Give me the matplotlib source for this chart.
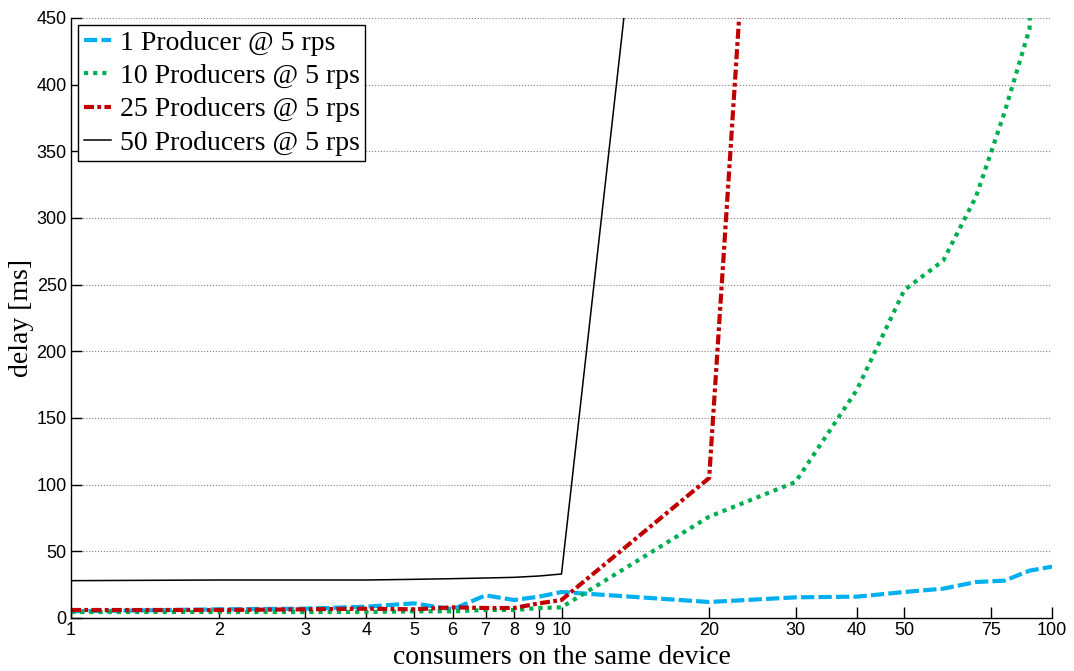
import numpy as np
import matplotlib
matplotlib.use('Agg')
import matplotlib.pyplot as plt
from matplotlib.ticker import FixedLocator, NullLocator, FixedFormatter

# consumers on the same device
consumers = [1, 2, 3, 4, 5, 6, 7, 8, 9, 10, 20, 30, 40, 50, 60, 70, 80, 90, 100]

# delay [ms] per configuration (values above 450 run off the top of the plot)
delay_1p = [5, 6.5, 7, 8.5, 11, 6.5, 17, 13.5, 16, 19.5, 12, 15.5, 16, 19.5, 22, 27, 28, 35.5, 38.5]
delay_10p = [4.5, 4.5, 4.5, 4.5, 5, 5, 6, 6, 7.5, 8, 76, 102, 171, 246, 268, 316, 379, 442, 2000]

consumers_25p = [1, 2, 3, 4, 5, 6, 7, 8, 9, 10, 20, 30]
delay_25p = [6, 6, 6.5, 7, 6.5, 8, 7.5, 7.5, 11, 13.5, 105, 1100]

consumers_50p = [1, 2, 3, 4, 5, 6, 7, 8, 9, 10, 20]
delay_50p = [28, 28.5, 28.5, 28.5, 29, 29.5, 30, 30.5, 31.5, 33, 1020]

xticks = [1, 2, 3, 4, 5, 6, 7, 8, 9, 10, 20, 30, 40, 50, 75, 100]
yticks = [0, 50, 100, 150, 200, 250, 300, 350, 400, 450]

serif = ['Liberation Serif', 'DejaVu Serif']
sans = ['Liberation Sans', 'DejaVu Sans']

fig = plt.figure(figsize=(10.74, 6.71), dpi=100)
ax = fig.add_axes([71 / 1074, 53 / 671, 981 / 1074, 600 / 671])

ax.plot(consumers, delay_1p, color='#00B0F0', lw=3, dashes=(3.2, 1.0),
        label='1 Producer @ 5 rps')
ax.plot(consumers, delay_10p, color='#00B050', lw=3, dashes=(1.0, 1.2),
        label='10 Producers @ 5 rps')
ax.plot(consumers_25p, delay_25p, color='#C00000', lw=3, dashes=(2.4, 0.8, 0.9, 0.8),
        label='25 Producers @ 5 rps')
ax.plot(consumers_50p, delay_50p, color='black', lw=1.1,
        label='50 Producers @ 5 rps')

ax.set_xscale('log')
ax.set_xlim(1, 100)
ax.set_ylim(0, 450)
ax.xaxis.set_major_locator(FixedLocator(xticks))
ax.xaxis.set_major_formatter(FixedFormatter([str(t) for t in xticks]))
ax.xaxis.set_minor_locator(NullLocator())
ax.set_yticks(yticks)

ax.yaxis.grid(True, color='gray', linestyle=':', lw=0.8)
ax.set_axisbelow(True)
for side in ['top', 'right']:
    ax.spines[side].set_visible(False)
for side in ['left', 'bottom']:
    ax.spines[side].set_linewidth(1.0)

ax.tick_params(direction='in', length=8, width=1, pad=3)
for lbl in ax.get_xticklabels() + ax.get_yticklabels():
    lbl.set_family(sans)
    lbl.set_fontsize(13)

ax.set_xlabel('consumers on the same device', family=serif, fontsize=20, labelpad=4)
ax.set_ylabel('delay [ms]', family=serif, fontsize=20, labelpad=2)

leg = ax.legend(loc='upper left', prop={'family': serif, 'size': 20},
                handlelength=1.0, handletextpad=0.3, labelspacing=0.28,
                borderpad=0.2, borderaxespad=0.25, fancybox=False,
                framealpha=1, edgecolor='black')
leg.get_frame().set_linewidth(1.0)

fig.savefig('out.png', dpi=100)
